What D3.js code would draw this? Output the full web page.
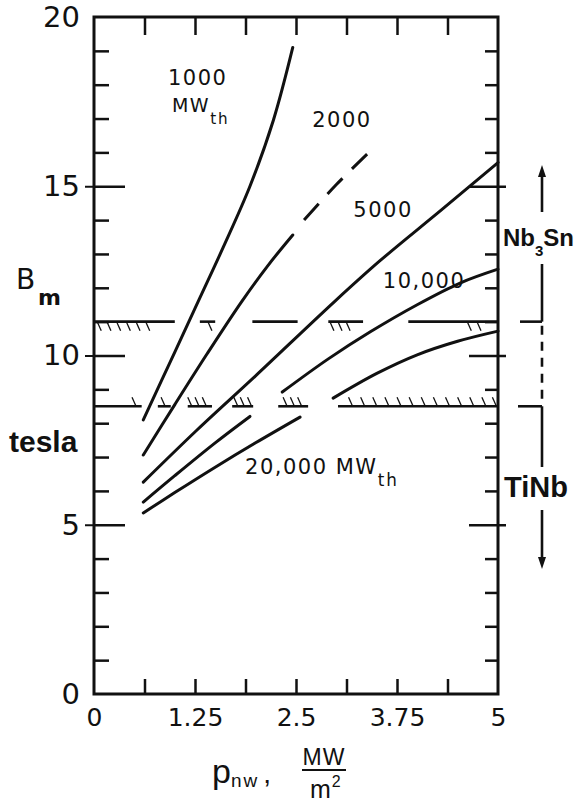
<!DOCTYPE html>
<html><head><meta charset="utf-8">
<script src="https://cdn.jsdelivr.net/npm/d3@7"></script>
<style>body{margin:0;background:#fff}</style>
</head><body><svg id="c" width="579" height="805"></svg>
<script>
// ---- data ----
const xTickLabels = [0, 1.25, 2.5, 3.75, 5];
const xMinorTicks = [0.625, 1.25, 1.875, 2.5, 3.125, 3.75, 4.375];
const yTickLabels = [0, 5, 10, 15, 20];
const yMajorTicks = [5, 10, 15];
const yMinorTicks = [1, 2, 3, 4, 6, 7, 8, 9, 11, 12, 13, 14, 16, 17, 18, 19];

const curve1000 = [[0.61, 8.1], [1.0, 10.1], [1.31, 11.7], [1.6, 13.2], [1.93, 15.0], [2.22, 16.95], [2.46, 19.1]];
const curve2000 = [[0.61, 7.06], [1.0, 8.55], [1.4, 10.05], [1.83, 11.6], [2.15, 12.65], [2.46, 13.56]];
const curve2000Ext = [[2.6, 14.0], [3.0, 15.05], [3.38, 15.95]];
const curve5000 = [[0.61, 6.26], [1.275, 7.8], [2.0, 9.4], [2.98, 11.6], [3.54, 12.8], [4.3, 14.3], [5, 15.7]];
const curve10000 = [[0.61, 5.67], [1.0, 6.45], [1.5, 7.42], [1.93, 8.2], [2.13, null], [2.33, 8.92], [2.9, 9.9], [3.42, 10.7], [4.0, 11.5], [4.53, 12.14], [5, 12.55]];
const curve20000 = [[0.61, 5.35], [1.0, 5.95], [1.5, 6.7], [2.0, 7.42], [2.55, 8.18], [2.75, null], [2.96, 8.74], [3.5, 9.47], [4.0, 10.02], [4.5, 10.42], [5, 10.72]];

const upperLimit = 11;   // Nb3Sn / TiNb boundary (tesla)
const lowerLimit = 8.5;
const upperSegments = [[0, 1.0], [1.31, 1.5], [1.96, 2.52], [2.9, 3.33], [3.89, 5]];
const lowerSegments = [[0, 0.59], [0.79, 0.95], [1.16, 1.46], [1.71, 1.97], [2.28, 2.65], [3.02, 5]];
const upperHatches = [0.04, 0.16, 0.28, 0.4, 0.52, 0.64, 1.41, 2.92, 3.02, 3.12, 4.62, 4.74];
const lowerHatches = [0.52, 0.88, 1.21, 1.3, 1.39, 1.78, 1.86, 1.95, 2.39, 2.48, 2.57, 3.2, 3.35, 3.5, 3.65, 3.8, 3.95, 4.1, 4.25, 4.4, 4.55, 4.7, 4.85, 4.98];

// ---- drawing ----
const svg = d3.select("#c");
const ink = "#111";
const x = d3.scaleLinear().domain([0, 5]).range([94, 498]);
const y = d3.scaleLinear().domain([0, 20]).range([694, 17]);
const numFont = "DejaVu Sans, sans-serif";
const sans = "Liberation Sans, Arial, sans-serif";

svg.append("rect").attr("width", 579).attr("height", 805).attr("fill", "#fff");

function tickAxis(axis, tx, ty, sw) {
  const g = svg.append("g").attr("transform", `translate(${tx},${ty})`).call(axis);
  g.select(".domain").remove();
  g.selectAll("text").remove();
  g.selectAll("line").attr("stroke", ink).attr("stroke-width", sw);
  return g;
}
// bottom & top ticks
tickAxis(d3.axisBottom(x).tickValues(xMinorTicks).tickSize(-15).tickFormat(""), 0, y(0), 2.5);
tickAxis(d3.axisTop(x).tickValues(xMinorTicks).tickSize(-18).tickFormat(""), 0, y(20), 2.5);
// left ticks
tickAxis(d3.axisLeft(y).tickValues(yMinorTicks).tickSize(-15).tickFormat(""), x(0), 0, 2.5);
tickAxis(d3.axisLeft(y).tickValues(yMajorTicks).tickSize(-31).tickFormat(""), x(0), 0, 2.5);
tickAxis(d3.axisLeft(y).tickValues(yMajorTicks).tickSize(9).tickFormat(""), x(0), 0, 2);
// right ticks
tickAxis(d3.axisRight(y).tickValues(yMinorTicks).tickSize(-13).tickFormat(""), x(5), 0, 2.5);
tickAxis(d3.axisRight(y).tickValues(yMajorTicks).tickSize(-29).tickFormat(""), x(5), 0, 2.5);
tickAxis(d3.axisRight(y).tickValues(yMajorTicks).tickSize(8).tickFormat(""), x(5), 0, 2.5);

// tick labels
const gx = svg.append("g").attr("transform", `translate(0,${y(0)})`)
  .call(d3.axisBottom(x).tickValues(xTickLabels).tickSize(0).tickPadding(14).tickFormat(d => String(d)));
gx.select(".domain").remove();
gx.selectAll("text").attr("font-family", numFont).attr("font-size", 25).attr("fill", ink);
const gy = svg.append("g").attr("transform", `translate(${x(0)},0)`)
  .call(d3.axisLeft(y).tickValues(yTickLabels).tickSize(0).tickPadding(14));
gy.select(".domain").remove();
gy.selectAll("text").attr("font-family", numFont).attr("font-size", 29).attr("fill", ink);

// frame
svg.append("rect").attr("x", x(0)).attr("y", y(20)).attr("width", x(5) - x(0)).attr("height", y(0) - y(20))
  .attr("fill", "none").attr("stroke", ink).attr("stroke-width", 3);

// limit lines with hatching
function limitLine(level, segs, hatches, below) {
  const g = svg.append("g");
  g.selectAll("line.seg").data(segs).join("line").attr("class", "seg")
    .attr("x1", d => x(d[0])).attr("x2", d => x(d[1]))
    .attr("y1", y(level)).attr("y2", y(level))
    .attr("stroke", ink).attr("stroke-width", 2.6);
  g.selectAll("line.h").data(hatches).join("line").attr("class", "h")
    .attr("x1", d => below ? x(d) : x(d) - 4).attr("x2", d => below ? x(d) + 4 : x(d))
    .attr("y1", below ? y(level) : y(level) - 9).attr("y2", below ? y(level) + 9 : y(level))
    .attr("stroke", ink).attr("stroke-width", 1.3);
}
limitLine(upperLimit, upperSegments, upperHatches, true);
limitLine(lowerLimit, lowerSegments, lowerHatches, false);

// curves
const line = d3.line().defined(d => d[1] !== null).x(d => x(d[0])).y(d => y(d[1])).curve(d3.curveCatmullRom.alpha(0.5));
[curve1000, curve2000, curve5000, curve10000, curve20000].forEach(c => {
  svg.append("path").attr("d", line(c)).attr("fill", "none").attr("stroke", ink)
    .attr("stroke-width", 3).attr("stroke-linecap", "round");
});
svg.append("path").attr("d", line(curve2000Ext)).attr("fill", "none").attr("stroke", ink)
  .attr("stroke-width", 3).attr("stroke-dasharray", "22,13");

// curve labels
function label(txt, px, py, size, sub) {
  const t = svg.append("text").attr("x", px).attr("y", py).attr("font-family", numFont)
    .attr("font-size", size).attr("letter-spacing", 1.5).attr("fill", ink).text(txt);
  if (sub) t.append("tspan").attr("dy", 12).attr("font-size", size * 0.8).attr("letter-spacing", 2).text(sub);
  return t;
}
label("1000", x(0.915), y(18.0), 21);
label("MW", x(0.965), y(17.2), 19, "th");
label("2000", x(2.7), y(16.75), 21);
label("5000", x(3.21), y(14.09), 21);
label("10,000", x(3.575), y(12.0), 21);
label("20,000  MW", x(1.87), y(6.5), 21, "th");

// y axis title
svg.append("text").attr("x", 16).attr("y", 289).attr("font-family", numFont).attr("font-size", 28).attr("fill", ink).text("B");
svg.append("text").attr("x", 38).attr("y", 305).attr("font-family", numFont).attr("font-weight", "bold").attr("font-size", 22).attr("fill", ink).text("m");
svg.append("text").attr("x", 9).attr("y", 452).attr("font-family", sans).attr("font-weight", "bold").attr("font-size", 30).attr("fill", ink).text("tesla");

// x axis title
const xt = svg.append("text").attr("x", 212).attr("y", 783).attr("font-family", sans).attr("fill", ink);
xt.append("tspan").attr("font-size", 34).text("p");
xt.append("tspan").attr("font-size", 19).attr("dy", 4).attr("letter-spacing", 2).text("nw");
xt.append("tspan").attr("font-size", 28).attr("dy", -4).attr("dx", 4).text(",");
const fx = 324;
svg.append("text").attr("x", fx).attr("y", 765).attr("text-anchor", "middle").attr("font-family", sans)
  .attr("font-size", 23).attr("letter-spacing", 1).attr("fill", ink).text("MW");
svg.append("line").attr("x1", fx - 22).attr("x2", fx + 22).attr("y1", 770).attr("y2", 770).attr("stroke", ink).attr("stroke-width", 1.8);
const mt = svg.append("text").attr("x", fx - 14).attr("y", 798).attr("font-family", sans).attr("fill", ink);
mt.append("tspan").attr("font-size", 25).text("m");
mt.append("tspan").attr("font-size", 16).attr("dy", -11).attr("dx", 1).text("2");

// right-side superconductor ranges
const bx = x(5) + 44;
function vline(y1, y2, dash) {
  const l = svg.append("line").attr("x1", bx).attr("x2", bx).attr("y1", y1).attr("y2", y2)
    .attr("stroke", ink).attr("stroke-width", 2.6);
  if (dash) l.attr("stroke-dasharray", dash);
}
function arrowHead(tipY, dir) {
  svg.append("path").attr("d", `M${bx},${tipY} L${bx - 4},${tipY + dir * 12} L${bx + 4},${tipY + dir * 12} Z`).attr("fill", ink);
}
vline(212, 172); arrowHead(165, 1);
const nb = svg.append("text").attr("x", 503).attr("y", 246).attr("font-family", sans)
  .attr("font-weight", "bold").attr("font-size", 24).attr("fill", ink);
nb.append("tspan").text("Nb");
nb.append("tspan").attr("font-size", 15).attr("dy", 10).text("3");
nb.append("tspan").attr("dy", -10).text("Sn");
vline(264, y(upperLimit));
svg.append("line").attr("x1", bx - 22).attr("x2", bx).attr("y1", y(upperLimit)).attr("y2", y(upperLimit)).attr("stroke", ink).attr("stroke-width", 2.6);
vline(y(upperLimit) + 4, y(lowerLimit) - 2, "9,7");
svg.append("line").attr("x1", bx - 24).attr("x2", bx).attr("y1", y(lowerLimit)).attr("y2", y(lowerLimit)).attr("stroke", ink).attr("stroke-width", 2.6);
vline(y(lowerLimit), 467);
svg.append("text").attr("x", 504).attr("y", 497).attr("font-family", sans)
  .attr("font-weight", "bold").attr("font-size", 29).attr("fill", ink).text("TiNb");
vline(510, 560); arrowHead(569, -1);
</script></body></html>
